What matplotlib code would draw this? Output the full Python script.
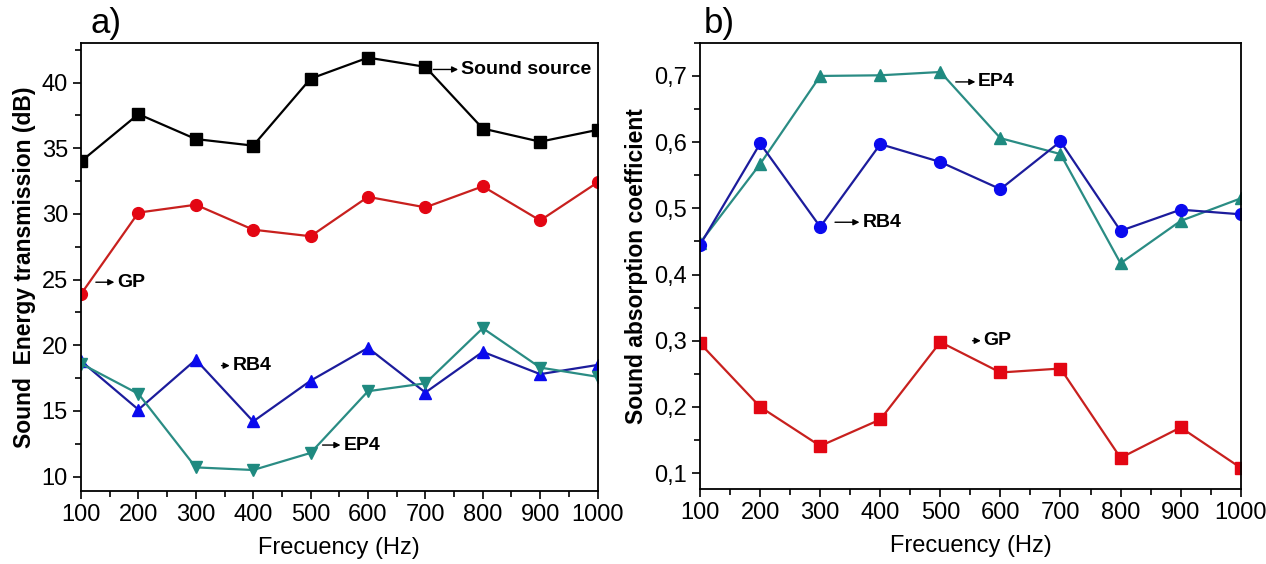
import matplotlib.pyplot as plt
from matplotlib.ticker import MultipleLocator, FuncFormatter

plt.rcParams['font.family'] = ['Liberation Sans', 'DejaVu Sans']

freq = [100, 200, 300, 400, 500, 600, 700, 800, 900, 1000]

# a) sound energy transmission (dB)
source_db = [34.0, 37.6, 35.7, 35.2, 40.3, 41.9, 41.2, 36.5, 35.5, 36.4]
gp_db = [23.9, 30.1, 30.7, 28.8, 28.3, 31.3, 30.5, 32.1, 29.5, 32.4]
rb4_db = [18.8, 15.1, 18.9, 14.2, 17.3, 19.8, 16.4, 19.5, 17.8, 18.5]
ep4_db = [18.6, 16.3, 10.7, 10.5, 11.8, 16.5, 17.1, 21.3, 18.3, 17.6]

# b) sound absorption coefficient
ep4_abs = [0.448, 0.567, 0.700, 0.701, 0.706, 0.606, 0.582, 0.417, 0.481, 0.515]
rb4_abs = [0.445, 0.598, 0.472, 0.597, 0.570, 0.529, 0.601, 0.466, 0.498, 0.491]
gp_abs = [0.296, 0.200, 0.141, 0.181, 0.298, 0.252, 0.258, 0.123, 0.169, 0.108]

RED_L, RED_M = '#c8201e', '#e30613'
BLUE_L, BLUE_M = '#1c1c9c', '#0a0aee'
TEAL_L, TEAL_M = '#2a8c84', '#1f8a80'

fig = plt.figure(figsize=(12.66, 5.64), dpi=100)
ax1 = fig.add_axes([0.064, 0.1294, 0.408, 0.794])
ax2 = fig.add_axes([0.553, 0.133, 0.427, 0.791])


def style(ax):
    ax.set_xlim(100, 1000)
    ax.xaxis.set_major_locator(MultipleLocator(100))
    ax.xaxis.set_minor_locator(MultipleLocator(50))
    ax.tick_params(which='major', direction='out', length=6, width=1.2, labelsize=17)
    ax.tick_params(which='minor', direction='out', length=4, width=1.2)
    for s in ax.spines.values():
        s.set_linewidth(1.3)
    ax.set_xlabel('Frecuency (Hz)', fontsize=17, labelpad=8)


def note(ax, text, tail, head):
    ax.annotate('', xy=head, xytext=tail,
                arrowprops=dict(arrowstyle='-|>', color='black', lw=1.0, mutation_scale=9))
    ax.text(head[0], head[1], text, fontsize=14, fontweight='bold', va='center', ha='left')


# panel a
ax1.plot(freq, source_db, color='black', lw=1.6, marker='s', ms=8)
ax1.plot(freq, gp_db, color=RED_L, lw=1.6, marker='o', ms=8.5, mfc=RED_M, mec=RED_M)
ax1.plot(freq, rb4_db, color=BLUE_L, lw=1.6, marker='^', ms=9, mfc=BLUE_M, mec=BLUE_M)
ax1.plot(freq, ep4_db, color=TEAL_L, lw=1.6, marker='v', ms=9, mfc=TEAL_M, mec=TEAL_M)
style(ax1)
ax1.set_ylim(8.9, 43.0)
ax1.yaxis.set_major_locator(MultipleLocator(5))
ax1.yaxis.set_minor_locator(MultipleLocator(2.5))
ax1.set_ylabel('Sound  Energy transmission (dB)', fontsize=16.5, fontweight='bold', labelpad=4)
note(ax1, 'Sound source', (709, 41.0), (762, 41.0))
note(ax1, 'GP', (121, 24.8), (163, 24.8))
note(ax1, 'RB4', (340, 18.45), (364, 18.45))
note(ax1, 'EP4', (516, 12.4), (557, 12.4))

# panel b
ax2.plot(freq, ep4_abs, color=TEAL_L, lw=1.6, marker='^', ms=9, mfc=TEAL_M, mec=TEAL_M)
ax2.plot(freq, rb4_abs, color=BLUE_L, lw=1.6, marker='o', ms=8.5, mfc=BLUE_M, mec=BLUE_M)
ax2.plot(freq, gp_abs, color=RED_L, lw=1.6, marker='s', ms=8, mfc=RED_M, mec=RED_M)
style(ax2)
ax2.set_ylim(0.076, 0.75)
ax2.yaxis.set_major_locator(MultipleLocator(0.1))
ax2.yaxis.set_minor_locator(MultipleLocator(0.05))
ax2.yaxis.set_major_formatter(FuncFormatter(lambda v, p: f'{v:.1f}'.replace('.', ',')))
ax2.set_ylabel('Sound absorption coefficient', fontsize=16.5, fontweight='bold', labelpad=4)
note(ax2, 'EP4', (521, 0.691), (563, 0.691))
note(ax2, 'RB4', (320, 0.479), (370, 0.479))
note(ax2, 'GP', (549, 0.300), (572, 0.300))

fig.text(90 / 1266, 1 - 33 / 564, 'a)', fontsize=25, ha='left', va='baseline')
fig.text(704 / 1266, 1 - 33 / 564, 'b)', fontsize=25, ha='left', va='baseline')

fig.savefig('out.png', dpi=100)
